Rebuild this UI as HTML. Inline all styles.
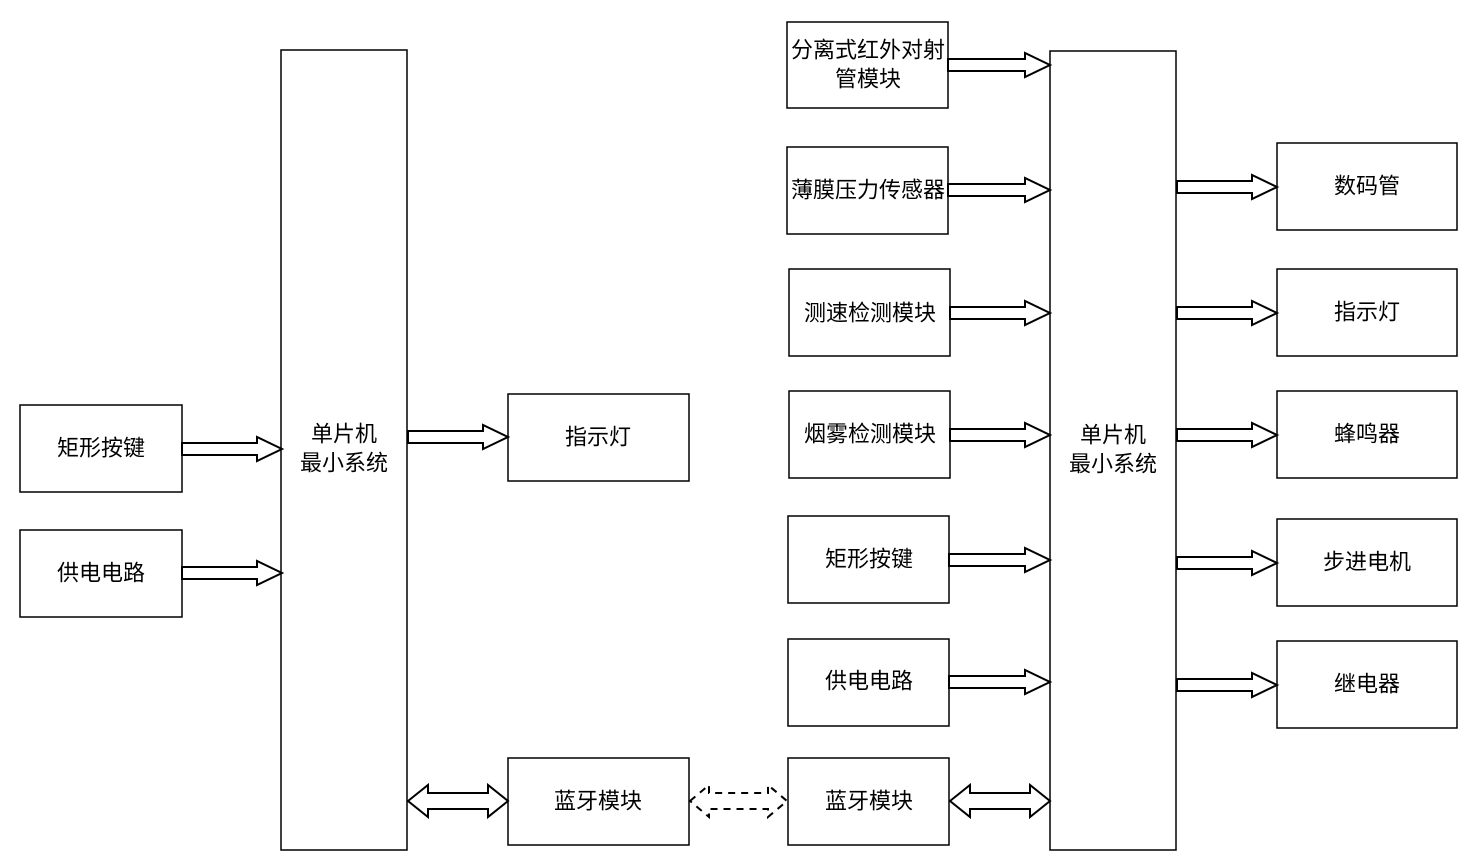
<!DOCTYPE html>
<html><head><meta charset="utf-8"><style>
html,body{margin:0;padding:0;background:#fff;}
svg text{font-family:"Liberation Sans","Noto Sans CJK SC",sans-serif;font-size:22px;fill:#000;text-anchor:middle;dominant-baseline:central;}
</style></head><body>
<svg width="1463" height="863" viewBox="0 0 1463 863" xmlns="http://www.w3.org/2000/svg">
<g fill="#fff" stroke="#000" stroke-width="1.5">
<rect x="20" y="405" width="162" height="87"/>
<rect x="20" y="530" width="162" height="87"/>
<rect x="281" y="50" width="126" height="800"/>
<rect x="508" y="394" width="181" height="87"/>
<rect x="508" y="758" width="181" height="87"/>
<rect x="787" y="22" width="161" height="86"/>
<rect x="787" y="147" width="161" height="87"/>
<rect x="789" y="269" width="161" height="87"/>
<rect x="789" y="391" width="161" height="87"/>
<rect x="788" y="516" width="161" height="87"/>
<rect x="788" y="639" width="161" height="87"/>
<rect x="788" y="758" width="161" height="87"/>
<rect x="1050" y="51" width="126" height="799"/>
<rect x="1277" y="143" width="180" height="87"/>
<rect x="1277" y="269" width="180" height="87"/>
<rect x="1277" y="391" width="180" height="87"/>
<rect x="1277" y="519" width="180" height="87"/>
<rect x="1277" y="641" width="180" height="87"/>
</g>
<g fill="#fff" stroke="#000" stroke-width="2" stroke-linejoin="miter">
<polygon points="182,443 257,443 257,437 282,449 257,461 257,455 182,455"/>
<polygon points="182,567 257,567 257,561 282,573 257,585 257,579 182,579"/>
<polygon points="408,431 483,431 483,425 508,437 483,449 483,443 408,443"/>
<polygon points="948,59 1025,59 1025,53 1050,65 1025,77 1025,71 948,71"/>
<polygon points="948,184 1025,184 1025,178 1050,190 1025,202 1025,196 948,196"/>
<polygon points="950,307 1025,307 1025,301 1050,313 1025,325 1025,319 950,319"/>
<polygon points="950,429 1025,429 1025,423 1050,435 1025,447 1025,441 950,441"/>
<polygon points="949,554 1025,554 1025,548 1050,560 1025,572 1025,566 949,566"/>
<polygon points="949,676 1025,676 1025,670 1050,682 1025,694 1025,688 949,688"/>
<polygon points="1177,181 1252,181 1252,175 1277,187 1252,199 1252,193 1177,193"/>
<polygon points="1177,307 1252,307 1252,301 1277,313 1252,325 1252,319 1177,319"/>
<polygon points="1177,429 1252,429 1252,423 1277,435 1252,447 1252,441 1177,441"/>
<polygon points="1177,557 1252,557 1252,551 1277,563 1252,575 1252,569 1177,569"/>
<polygon points="1177,679 1252,679 1252,673 1277,685 1252,697 1252,691 1177,691"/>
<polygon points="408,801 428,785 428,793 488,793 488,785 508,801 488,817 488,809 428,809 428,817"/>
<polygon points="950,801 970,785 970,793 1030,793 1030,785 1050,801 1030,817 1030,809 970,809 970,817"/>
<polygon points="690,801 709,785 709,793 768,793 768,785 787,801 768,817 768,809 709,809 709,817" stroke-dasharray="7,6"/>
</g>
<text x="101" y="448">矩形按键</text>
<text x="101" y="573">供电电路</text>
<text x="344" y="434">单片机</text>
<text x="344" y="463">最小系统</text>
<text x="598" y="437">指示灯</text>
<text x="598" y="801">蓝牙模块</text>
<text x="868" y="50">分离式红外对射</text>
<text x="868" y="79">管模块</text>
<text x="868" y="190">薄膜压力传感器</text>
<text x="870" y="313">测速检测模块</text>
<text x="870" y="434">烟雾检测模块</text>
<text x="869" y="559">矩形按键</text>
<text x="869" y="681">供电电路</text>
<text x="869" y="801">蓝牙模块</text>
<text x="1113" y="435">单片机</text>
<text x="1113" y="464">最小系统</text>
<text x="1367" y="186">数码管</text>
<text x="1367" y="312">指示灯</text>
<text x="1367" y="434">蜂鸣器</text>
<text x="1367" y="562">步进电机</text>
<text x="1367" y="684">继电器</text>
</svg>
</body></html>
